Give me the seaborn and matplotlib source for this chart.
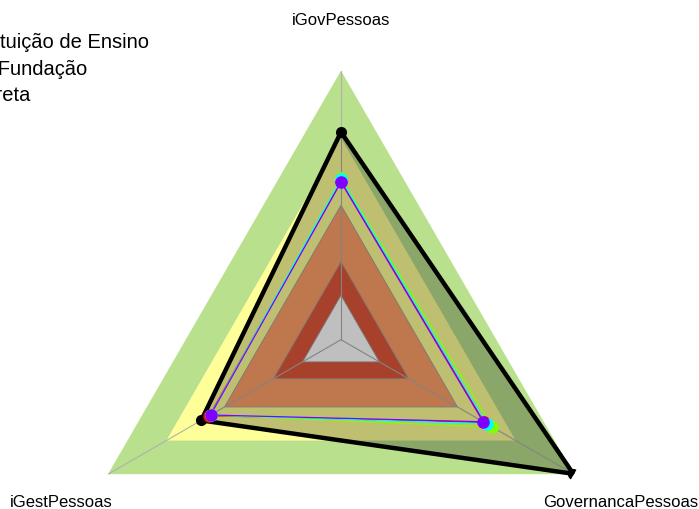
import numpy as np
import matplotlib
matplotlib.use("Agg")
import matplotlib.pyplot as plt
from matplotlib.lines import Line2D
import seaborn as sns

# === Data ===
axis_labels = ["iGovPessoas", "iGestPessoas", "GovernancaPessoas"]
axis_angles_deg = [90, 210, 330]

# background bands (outer -> inner)
band_levels = [1.0, 0.75, 0.5, 0.29, 0.165]
band_colors = ["#B9E08D", "#FFFF99", "#FFA068", "#E0583C", "#FFFFFF"]
band_edges = ["none", "none", "#A0A0A0", "#A0A0A0", "#A0A0A0"]

# black series
org_values = [0.772, 0.60, 0.997]

# colored series
series_colors = ["#FF0000", "#80FF00", "#00FFFF", "#8000FF"]
series_values = [
    [0.590, 0.565, 0.615],
    [0.600, 0.560, 0.650],
    [0.597, 0.560, 0.625],
    [0.586, 0.560, 0.610],
]

legend_labels = ["Instituição de Ensino", "Aut/Fundação", "Indireta"]
legend_colors = ["#80FF00", "#00FFFF", "#8000FF"]

sns.set_theme(style="white")
plt.rcParams["font.family"] = ["Liberation Sans", "DejaVu Sans"]
plt.rcParams["text.color"] = "black"

W, H = 699, 510
fig = plt.figure(figsize=(W / 100, H / 100), dpi=100)

cx, cy, R = 341, 510 - 340.7, 269
ax = fig.add_axes([(cx - R) / W, (cy - R) / H, 2 * R / W, 2 * R / H], projection="polar")
ax.set_ylim(0, 1)
ax.grid(False)
ax.set_xticks([])
ax.set_yticks([])
ax.spines["polar"].set_visible(False)
ax.patch.set_alpha(0)

theta = np.deg2rad(axis_angles_deg)
th_closed = np.append(theta, theta[0])


def close(v):
    return np.append(v, v[0])


# bands
for lvl, col, ec in zip(band_levels, band_colors, band_edges):
    ax.fill(th_closed, close([lvl] * 3), facecolor=col, edgecolor=ec, lw=0.6, zorder=1)

# axis spokes
for t in theta:
    ax.plot([t, t], [0, 1], color="#B0B0B0", lw=0.8, zorder=2)

# black polygon with translucent fill
ax.fill(th_closed, close(org_values), facecolor="black", alpha=0.25, edgecolor="none", zorder=3)
ax.plot(th_closed, close(org_values), color="black", lw=3.2, zorder=4,
        solid_joinstyle="round", solid_capstyle="round")
ax.plot(theta, org_values, "o", color="black", ms=7, zorder=5)

# colored series
for vals, col in zip(series_values, series_colors):
    ax.plot(th_closed, close(vals), color=col, lw=0.9, zorder=6)
    ax.plot(theta, vals, "o", color=col, ms=8, zorder=7)

# axis labels
for t, lab in zip(theta, axis_labels):
    r = 1.19 if lab == "iGovPessoas" else 1.2
    ax.text(t, r, lab, ha="center", va="center", fontsize=12, color="black")

handles = [Line2D([], [], color=c, marker="o", lw=1) for c in legend_colors]
fig.legend(handles, legend_labels, loc="upper left", bbox_to_anchor=(-93.4 / W, 1 - 33 / H),
           frameon=False, fontsize=14.5, borderpad=0, borderaxespad=0,
           handlelength=2, handletextpad=0.8, labelspacing=0.38, labelcolor="black")

fig.savefig("out.png", dpi=100)
